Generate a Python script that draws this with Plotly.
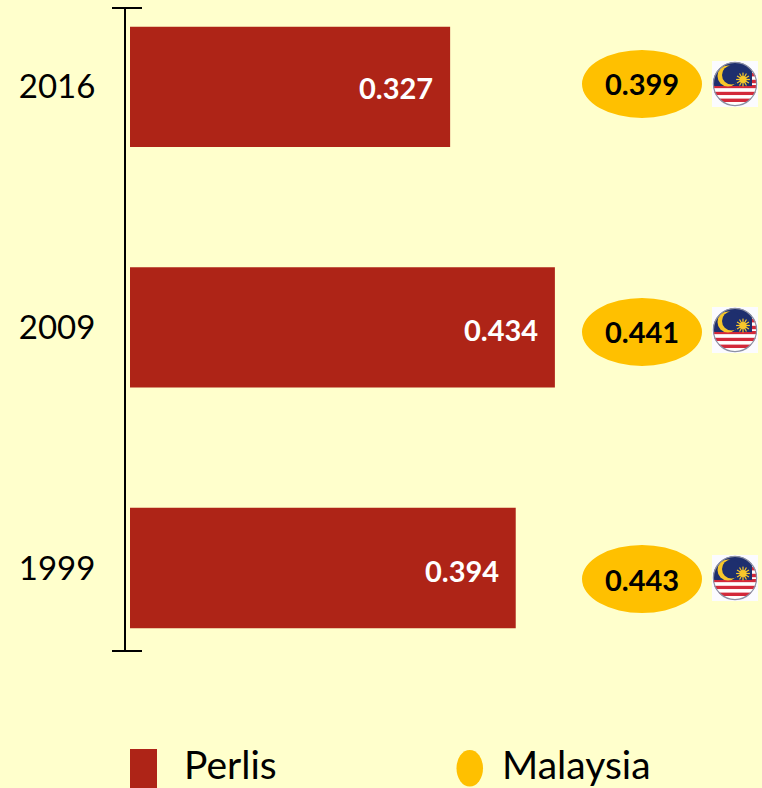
import base64
import plotly.graph_objects as go

years = ["1999", "2009", "2016"]
perlis = [0.394, 0.434, 0.327]
malaysia = [0.443, 0.441, 0.399]
perlis_label = "Perlis"
malaysia_label = "Malaysia"

BG = "#FFFFCC"
RED = "#AE2417"
GOLD = "#FFC000"
FONT = "Lato"
W, H = 762, 788
L, T, R_EDGE, B_EDGE = 126, 8, 762, 651
PX_PER_UNIT = 979


def xp(px):
    return (px - L) / (R_EDGE - L)


def yp(py):
    return (B_EDGE - py) / (B_EDGE - T)


stripes = "".join(
    f'<rect x="0" y="{y}" width="46" height="3.4" fill="{"#D3293A" if i % 2 == 0 else "#FFFFFF"}"/>'
    for i, y in enumerate([24, 27.4, 30.8, 34.2, 37.6, 41])
)
rays = "".join(
    f'<rect x="30.4" y="11.6" width="1.2" height="13.8" fill="#F7C72A" transform="rotate({a} 31 18.5)"/>'
    for a in range(0, 180, 30)
)
flag_svg = f"""<svg xmlns="http://www.w3.org/2000/svg" width="46" height="46" viewBox="0 0 46 46">
<rect width="46" height="46" fill="#FBFBFF"/>
<defs><clipPath id="c"><circle cx="23" cy="23" r="22"/></clipPath></defs>
<g clip-path="url(#c)">
<rect x="0" y="0" width="46" height="46" fill="#FFFFFF"/>
<rect x="38" y="12" width="8" height="3.4" fill="#D3293A"/>
<rect x="38" y="18.8" width="8" height="3.4" fill="#D3293A"/>
{stripes}
<rect x="0" y="0" width="40" height="25" fill="#1E2F6E"/>
<circle cx="16" cy="15" r="10.5" fill="#F7C72A"/><circle cx="19.5" cy="14" r="9.5" fill="#1E2F6E"/>
{rays}<circle cx="31" cy="18.5" r="3.6" fill="#F7C72A"/>
</g>
<circle cx="23" cy="23" r="21.6" fill="none" stroke="#8C90A4" stroke-width="1.2"/>
</svg>"""
flag_uri = "data:image/svg+xml;base64," + base64.b64encode(flag_svg.encode()).decode()

fig = go.Figure(
    go.Bar(
        x=perlis,
        y=years,
        orientation="h",
        marker=dict(color=RED, line=dict(width=0)),
        showlegend=False,
        hoverinfo="skip",
    )
)

label_shift = [-2, -2, -1]
ellipse_shift = [-11, -4.5, 3]
flag_center = [578, 330, 84]

annotations, shapes, images = [], [], []
for i, (v, m) in enumerate(zip(perlis, malaysia)):
    annotations.append(
        dict(x=v, y=i, xref="x", yref="y", text=f"<b>{v:.3f}</b>", showarrow=False,
             xanchor="right", yanchor="middle", xshift=-15, yshift=label_shift[i],
             font=dict(family=FONT, size=29, color="white"))
    )
    off = ellipse_shift[i]
    shapes.append(
        dict(type="circle", xref="paper", yref="y", xsizemode="pixel", ysizemode="pixel",
             xanchor=xp(642), yanchor=i, x0=-60, x1=60, y0=off - 34, y1=off + 34,
             fillcolor=GOLD, line=dict(width=0))
    )
    annotations.append(
        dict(x=xp(642), y=i, xref="paper", yref="y", text=f"<b>{m:.3f}</b>", showarrow=False,
             xanchor="center", yanchor="middle", yshift=off, font=dict(family=FONT, size=29, color="black"))
    )
    images.append(
        dict(source=flag_uri, xref="paper", yref="paper", x=xp(712), y=yp(flag_center[i] - 23),
             sizex=46 / (R_EDGE - L), sizey=46 / (B_EDGE - T), xanchor="left", yanchor="top",
             sizing="stretch", layer="above")
    )

# axis end caps
for edge in (0, 1):
    shapes.append(
        dict(type="line", xref="paper", yref="paper", xsizemode="pixel", xanchor=0,
             x0=-14, x1=16, y0=edge, y1=edge, line=dict(color="black", width=2))
    )

# hand-placed legend
shapes.append(dict(type="rect", xref="paper", yref="paper", x0=xp(130), x1=xp(157), y0=yp(749), y1=yp(790),
                   fillcolor=RED, line=dict(width=0)))
shapes.append(dict(type="circle", xref="paper", yref="paper", x0=xp(456.5), x1=xp(483), y0=yp(750), y1=yp(786.5),
                   fillcolor=GOLD, line=dict(width=0)))
annotations.append(dict(x=xp(182), y=yp(764), xref="paper", yref="paper", text=perlis_label, showarrow=False,
                        xanchor="left", yanchor="middle", font=dict(family=FONT, size=39, color="black")))
annotations.append(dict(x=xp(500), y=yp(764), xref="paper", yref="paper", text=malaysia_label, showarrow=False,
                        xanchor="left", yanchor="middle", font=dict(family=FONT, size=39, color="black")))

fig.update_layout(
    width=W,
    height=H,
    margin=dict(l=L, r=W - R_EDGE, t=T, b=H - B_EDGE, pad=0, autoexpand=False),
    paper_bgcolor=BG,
    plot_bgcolor=BG,
    bargap=0.5,
    showlegend=False,
    annotations=annotations,
    shapes=shapes,
    images=images,
    xaxis=dict(
        range=[-4 / PX_PER_UNIT, (R_EDGE - L - 4) / PX_PER_UNIT],
        visible=False,
        fixedrange=True,
    ),
    yaxis=dict(
        type="category",
        categoryorder="array",
        categoryarray=years,
        range=[-0.345, 2.328],
        showline=True,
        linecolor="black",
        linewidth=2,
        showgrid=False,
        zeroline=False,
        ticks="outside",
        ticklen=22,
        tickcolor="rgba(0,0,0,0)",
        tickfont=dict(family=FONT, size=33, color="black"),
        automargin=False,
        fixedrange=True,
    ),
)

fig.write_html(
    "out.html",
    config=dict(displayModeBar=False),
    post_script=f"document.body.style.margin='0';document.body.style.background='{BG}';document.body.style.overflow='hidden';",
)
